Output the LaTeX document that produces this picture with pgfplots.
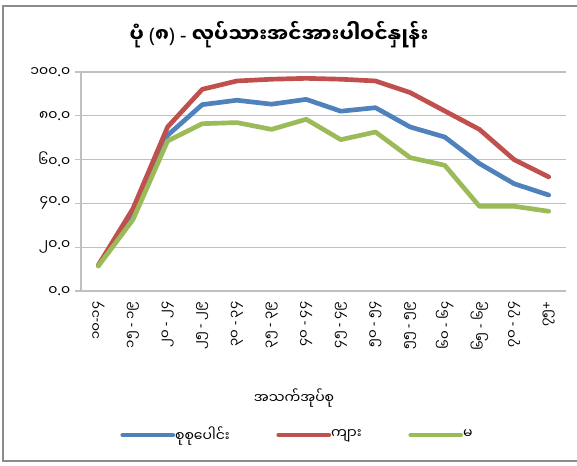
\documentclass[border=0pt]{standalone}
\usepackage{fontspec}
\usepackage{pgfplots}
\pgfplotsset{compat=1.18}
\setmainfont[Script=Myanmar]{Noto Sans Myanmar UI}
\newfontfamily\mm[Script=Myanmar]{Noto Sans Myanmar UI}
\newfontfamily\lat{Noto Sans}
\newcommand{\da}{{\lat\ -\ }}
\newcommand{\pt}{{\lat .}}
\definecolor{cblue}{HTML}{4F81BD}
\definecolor{cred}{HTML}{C0504D}
\definecolor{cgreen}{HTML}{9BBB59}
\definecolor{cgrid}{HTML}{C0C0C0}
\definecolor{cframe}{HTML}{8C8C8C}
\begin{document}
\begin{tikzpicture}
\useasboundingbox (0,0) rectangle (432.75pt,349.5pt);
\fill[white] (0,0) rectangle (432.75pt,349.5pt);
\draw[cframe, line width=1.5pt] (440pt,345pt) -- (2.25pt,345pt) -- (2.25pt,3.75pt) -- (440pt,3.75pt);
\begin{axis}[
  at={(60.75pt,131.25pt)}, anchor=south west,
  scale only axis, width=363.75pt, height=164.25pt,
  xmin=-0.5, xmax=13.5, ymin=0, ymax=100,
  xtick={0,...,13},
  xticklabels={{၁၀{\lat -}၁၄},{၁၅\da ၁၉},{၂၀\da ၂၄},{၂၅\da ၂၉},{၃၀\da ၃၄},{၃၅\da ၃၉},{၄၀\da ၄၄},{၄၅\da ၄၉},{၅၀\da ၅၄},{၅၅\da ၅၉},{၆၀\da ၆၄},{၆၅\da ၆၉},{၇၀\da ၇၄},{၇၅{\lat +}}},
  x tick label style={rotate=90, anchor=east, font=\mm\fontsize{10}{12}\selectfont},
  ytick={0,20,40,60,80,100},
  yticklabels={{၀\pt ၀},{၂၀\pt ၀},{၄၀\pt ၀},{၆၀\pt ၀},{၈၀\pt ၀},{၁၀၀\pt ၀}},
  y tick label style={font=\mm\fontsize{10.5}{12}\selectfont},
  major x tick style={draw=none},
  ytick style={cgrid, line width=1pt},
  tick align=outside, major tick length=4.5pt,
  ymajorgrids, grid style={cgrid, line width=1pt},
  axis x line*=bottom, axis y line*=left,
  x axis line style={cgrid, line width=1pt, -},
  y axis line style={cgrid, line width=1pt, -},
  legend columns=3,
  legend style={at={(0.447,-0.6575)}, anchor=center, draw=none, fill=none,
    font=\mm\fontsize{10.5}{12}\selectfont,
    /tikz/every even column/.append style={column sep=33pt},
    /tikz/every odd column/.append style={column sep=-2pt},
    inner sep=0pt},
  legend image code/.code={\draw[#1, line width=3pt, line cap=round] (0pt,0pt) -- (38pt,0pt);},
  every axis plot/.append style={line width=3.5pt, line join=round, line cap=round, mark=none},
]
\addplot[cblue] coordinates {(0,11.6) (1,35.0) (2,71.1) (3,85.1) (4,87.1) (5,85.3) (6,87.5) (7,82.1) (8,83.7) (9,74.9) (10,70.3) (11,58.2) (12,49.0) (13,43.8)};
\addlegendentry{စုစုပေါင်း}
\addplot[cred] coordinates {(0,11.8) (1,37.6) (2,74.9) (3,92.1) (4,95.9) (5,96.7) (6,97.1) (7,96.7) (8,95.9) (9,90.6) (10,82.2) (11,73.8) (12,60.0) (13,52.1)};
\addlegendentry{ကျား}
\addplot[cgreen] coordinates {(0,11.4) (1,32.6) (2,68.5) (3,76.4) (4,76.9) (5,73.8) (6,78.4) (7,69.1) (8,72.6) (9,60.9) (10,57.4) (11,38.7) (12,38.7) (13,36.4)};
\addlegendentry{မ}
\end{axis}
\node[font=\mm\bfseries\fontsize{15}{17}\selectfont] at (209.25pt,323.25pt) {ပုံ {\lat\bfseries (}၈{\lat\bfseries )} {\lat\bfseries -} လုပ်သားအင်အားပါဝင်နှုန်း};
\node[font=\mm\fontsize{10.5}{12}\selectfont] at (220.5pt,51pt) {အသက်အုပ်စု};
\end{tikzpicture}
\end{document}
